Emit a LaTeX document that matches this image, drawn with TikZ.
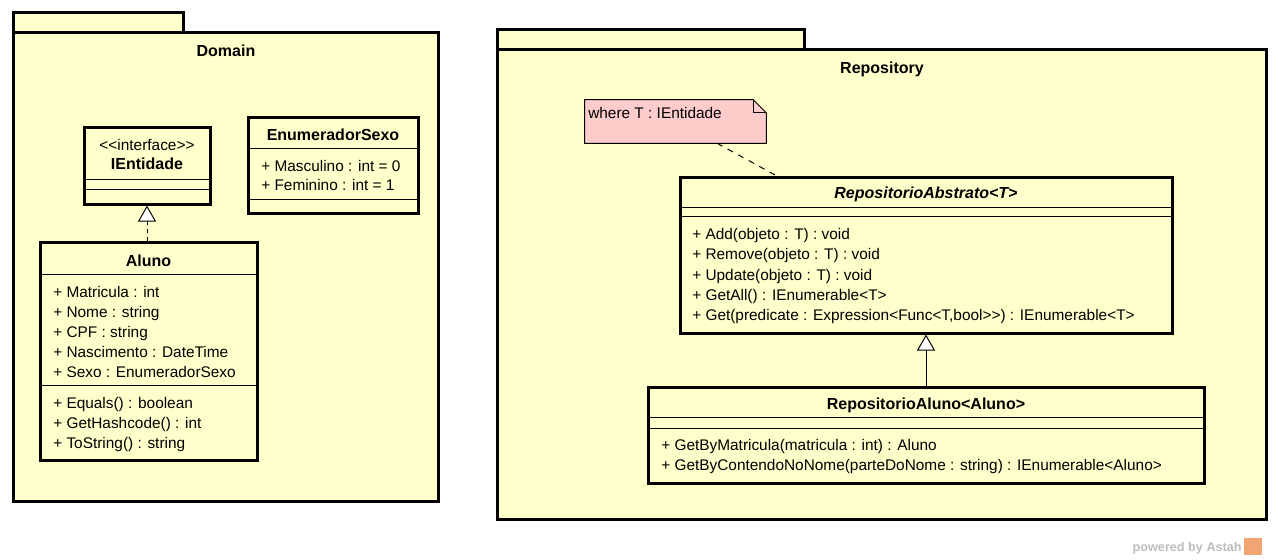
\documentclass[tikz,border=0pt]{standalone}
\usepackage{fontspec}
\newfontfamily\umlfont{Liberation Sans}
\usetikzlibrary{fit,calc,arrows.meta}
\definecolor{umlfill}{HTML}{FFFFCC}
\definecolor{notefill}{HTML}{FFCCCC}
\definecolor{astahgray}{HTML}{BDBDBD}
\definecolor{astahorange}{HTML}{F2A472}
\newcommand{\umlsz}{\fontsize{11.55}{13.5}\selectfont}
\newcommand{\umlttlsz}{\fontsize{12}{14}\selectfont}
\begin{document}
\begin{tikzpicture}[x=0.75pt,y=-0.75pt,
  pkg/.style={draw, line width=2.25pt, fill=umlfill, inner sep=0pt},
  cls/.style={draw, line width=2.25pt, fill=umlfill, inner sep=0pt},
  sepline/.style={line width=0.75pt},
  txt/.style={anchor=base west, inner sep=0pt, font=\umlfont\umlsz},
  ctxt/.style={anchor=base, inner sep=0pt, font=\umlfont\umlsz},
  ttl/.style={anchor=base, inner sep=0pt, font=\umlfont\bfseries\umlttlsz},
  notebox/.style={inner sep=0pt},
  gen/.style={line width=0.75pt, -{Triangle[fill=white, length=12pt, width=13.5pt, line width=0.75pt]}},
  real/.style={gen, dash pattern=on 3pt off 3pt},
  notelink/.style={line width=0.75pt, dash pattern=on 4.5pt off 4.5pt}
]
\useasboundingbox (0,0) rectangle (1278,560);
\fill[white] (0,0) rectangle (1278,560);

% ---------------- Domain package ----------------
\node[pkg, fit={(13,13) (183,33)}] (domtab) {};
\node[pkg, fit={(13,33) (438,501)}] (dom) {};
\node[ttl] (domtitle) at (226,56.5) {Domain};

% IEntidade
\node[cls, fit={(84,127) (210,204)}] (ient) {};
\node[ctxt] (ientst) at (147,150.5) {<<interface>>};
\node[ttl] (ientname) at (147,169.5) {IEntidade};
\draw[sepline] (ient.west |- 0,179) -- (ient.east |- 0,179);
\draw[sepline] (ient.west |- 0,189) -- (ient.east |- 0,189);

% EnumeradorSexo
\node[cls, fit={(248,117) (418,213)}] (enum) {};
\node[ttl] (enumname) at (333,140.5) {EnumeradorSexo};
\draw[sepline] (enum.west |- 0,148) -- (enum.east |- 0,148);
\node[txt] (enuma1) at (261,171) {+ Masculino : int = 0};
\node[txt] (enuma2) at (261,190.5) {+ Feminino : int = 1};
\draw[sepline] (enum.west |- 0,199) -- (enum.east |- 0,199);

% Aluno
\node[cls, fit={(40,242) (257,460)}] (aluno) {};
\node[ttl] (aluname) at (148.5,266) {Aluno};
\draw[sepline] (aluno.west |- 0,274) -- (aluno.east |- 0,274);
\node[txt] (alua1) at (53,297) {+ Matricula : int};
\node[txt] (alua2) at (53,317) {+ Nome : string};
\node[txt] (alua3) at (53,337) {+ CPF : string};
\node[txt] (alua4) at (53,357) {+ Nascimento : DateTime};
\node[txt] (alua5) at (53,377) {+ Sexo : EnumeradorSexo};
\draw[sepline] (aluno.west |- 0,385) -- (aluno.east |- 0,385);
\node[txt] (alum1) at (53,408) {+ Equals() : boolean};
\node[txt] (alum2) at (53,428) {+ GetHashcode() : int};
\node[txt] (alum3) at (53,448.5) {+ ToString() : string};

\draw[real] (aluno.north -| ient.south) -- (ient.south);

% ---------------- Repository package ----------------
\node[pkg, fit={(497,30) (804,50)}] (repotab) {};
\node[pkg, fit={(497,50) (1266,519)}] (repo) {};
\node[ttl] (repotitle) at (882,73.5) {Repository};

% Note
\node[notebox, fit={(585,100) (766,143)}] (note) {};
\filldraw[fill=notefill, line width=0.75pt]
  (note.south west) -- (note.north west) -- ($(note.north east)+(-13,0)$)
  -- ($(note.north east)+(0,13)$) -- (note.south east) -- cycle;
\draw[line width=0.75pt] ($(note.north east)+(-13,0)$) -- ($(note.north east)+(-13,13)$) -- ($(note.north east)+(0,13)$);
\node[txt] (notetext) at (588,118.5) {where T : IEntidade};

% RepositorioAbstrato
\node[cls, fit={(680,177) (1172,333)}] (abs) {};
\node[anchor=base, inner sep=0pt, font=\umlfont\bfseries\itshape\umlttlsz] (absname) at (926,198.5) {RepositorioAbstrato<T>};
\draw[sepline] (abs.west |- 0,207) -- (abs.east |- 0,207);
\draw[sepline] (abs.west |- 0,216) -- (abs.east |- 0,216);
\node[txt] (absm1) at (692,239.5) {+ Add(objeto : T) : void};
\node[txt] (absm2) at (692,259.5) {+ Remove(objeto : T) : void};
\node[txt] (absm3) at (692,280) {+ Update(objeto : T) : void};
\node[txt] (absm4) at (692,300) {+ GetAll() : IEnumerable<T>};
\node[txt] (absm5) at (692,320.5) {+ Get(predicate : Expression<Func<T,bool>>) : IEnumerable<T>};

\draw[notelink] ($(note.south west)!0.729!(note.south east)$) -- ($(abs.north west)!0.197!(abs.north east)$);

% RepositorioAluno
\node[cls, fit={(648,387) (1204,483)}] (ralu) {};
\node[ttl] (raluname) at (926,409.5) {RepositorioAluno<Aluno>};
\draw[sepline] (ralu.west |- 0,417) -- (ralu.east |- 0,417);
\draw[sepline] (ralu.west |- 0,428) -- (ralu.east |- 0,428);
\node[txt] (ralum1) at (661,450.5) {+ GetByMatricula(matricula : int) : Aluno};
\node[txt] (ralum2) at (661,470.5) {+ GetByContendoNoNome(parteDoNome : string) : IEnumerable<Aluno>};

\draw[gen] (ralu.north) -- (abs.south);

% Footer
\node[anchor=base east, inner sep=0pt, text=astahgray, font=\umlfont\bfseries\fontsize{9.5}{11}\selectfont] (powered) at (1242,551.5) {powered by Astah};
\node[fill=astahorange, inner sep=0pt, minimum width=13.5pt, minimum height=12.75pt, anchor=west] (logo) at (1244,546.5) {};
\end{tikzpicture}
\end{document}
